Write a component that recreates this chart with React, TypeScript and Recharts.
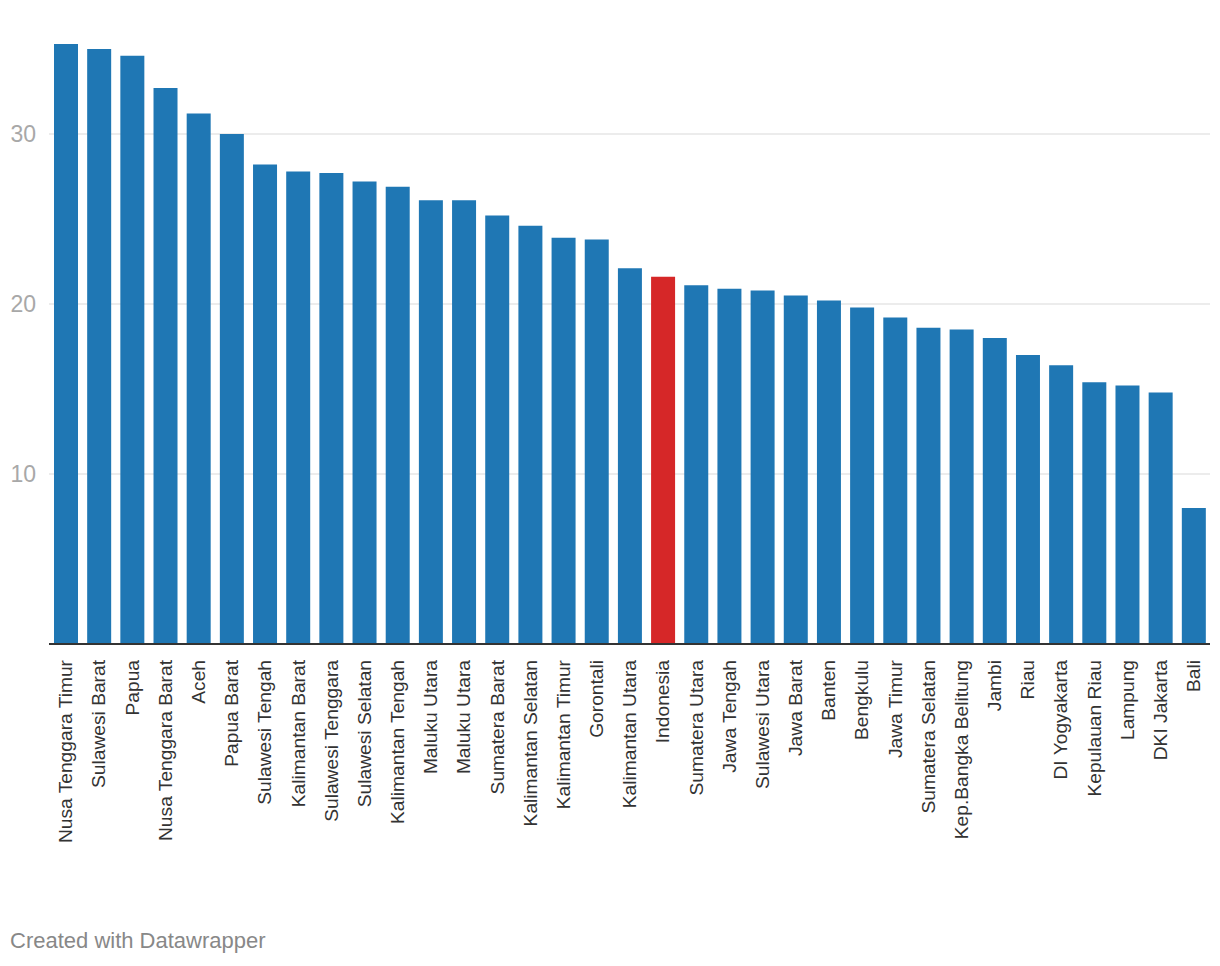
import { BarChart, Bar, XAxis, YAxis, CartesianGrid, Cell } from "recharts";

const PROVINCES = [
  "Nusa Tenggara Timur", "Sulawesi Barat", "Papua", "Nusa Tenggara Barat", "Aceh",
  "Papua Barat", "Sulawesi Tengah", "Kalimantan Barat", "Sulawesi Tenggara", "Sulawesi Selatan",
  "Kalimantan Tengah", "Maluku Utara", "Maluku Utara ", "Sumatera Barat", "Kalimantan Selatan",
  "Kalimantan Timur", "Gorontali", "Kalimantan Utara", "Indonesia", "Sumatera Utara",
  "Jawa Tengah", "Sulawesi Utara", "Jawa Barat", "Banten", "Bengkulu",
  "Jawa Timur", "Sumatera Selatan", "Kep.Bangka Belitung", "Jambi", "Riau",
  "DI Yogyakarta", "Kepulauan Riau", "Lampung", "DKI Jakarta", "Bali",
];

const VALUES = [
  35.3, 35.0, 34.6, 32.7, 31.2,
  30.0, 28.2, 27.8, 27.7, 27.2,
  26.9, 26.1, 26.1, 25.2, 24.6,
  23.9, 23.8, 22.1, 21.6, 21.1,
  20.9, 20.8, 20.5, 20.2, 19.8,
  19.2, 18.6, 18.5, 18.0, 17.0,
  16.4, 15.4, 15.2, 14.8, 8.0,
];

const Y_TICKS = [10, 20, 30];
const HIGHLIGHT = "Indonesia";

const FONT = "'Helvetica Neue', Helvetica, Arial, 'Liberation Sans', sans-serif";

const data = PROVINCES.map((name, i) => ({ name, value: VALUES[i] }));

function ProvinceTick({ x, y, payload }: any) {
  return (
    <g transform={`translate(${x},${y + 8})`}>
      <text
        transform="rotate(-90)"
        textAnchor="end"
        dy="0.35em"
        fill="#333"
        fontSize={19.2}
        fontFamily={FONT}
      >
        {String(payload.value).trim()}
      </text>
    </g>
  );
}

export default function App() {
  return (
    <div style={{ position: "absolute", left: 0, top: 0, width: 1220, height: 966, background: "#fff" }}>
      <BarChart
        width={1220}
        height={900}
        data={data}
        margin={{ top: 32, right: 10, bottom: 0, left: 0 }}
        barSize={24}
      >
        {/* gridlines only at the labelled ticks */}
        <CartesianGrid
          vertical={false}
          horizontalValues={Y_TICKS}
          stroke="#e6e6e6"
          strokeWidth={1.5}
        />
        <YAxis
          width={49}
          domain={[0, 36]}
          ticks={Y_TICKS}
          axisLine={false}
          tickLine={false}
          tickMargin={7}
          tick={{ fill: "#a8a8a8", fontSize: 23, fontFamily: FONT }}
        />
        <XAxis
          dataKey="name"
          interval={0}
          height={256}
          tickLine={false}
          axisLine={{ stroke: "#333", strokeWidth: 2 }}
          tick={<ProvinceTick />}
        />
        <Bar dataKey="value" isAnimationActive={false}>
          {data.map((d) => (
            <Cell key={d.name} fill={d.name === HIGHLIGHT ? "#d62728" : "#1f77b4"} />
          ))}
        </Bar>
      </BarChart>
      <div
        style={{
          position: "absolute",
          left: 10,
          top: 928,
          fontFamily: FONT,
          fontSize: 22,
          color: "#888",
        }}
      >
        Created with Datawrapper
      </div>
    </div>
  );
}
